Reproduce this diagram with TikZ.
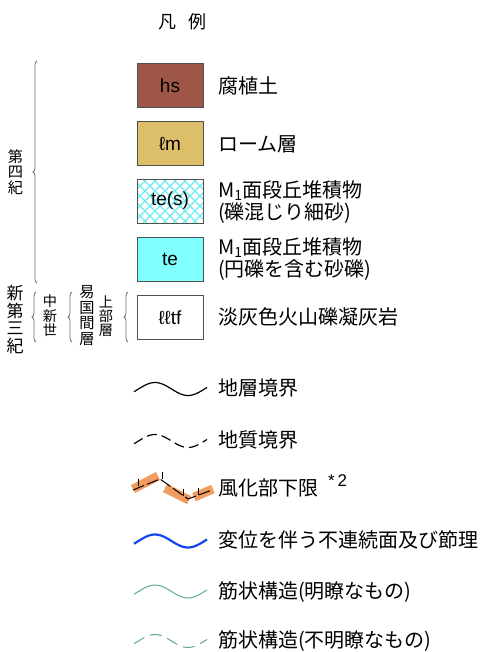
\documentclass[tikz,border=0pt]{standalone}
\usepackage{fontspec}
\setmainfont{Noto Sans CJK JP}
\newfontfamily\boxfont{Liberation Sans}
\usetikzlibrary{decorations.pathreplacing}

\tikzset{
    unitbox/.style={draw=myframe, line width=0.9pt, minimum width=66pt, minimum height=44pt,
        inner sep=0pt, font=\boxfont\fontsize{19}{20}\selectfont},
    legtext/.style={anchor=west, inner sep=0pt, align=left, font=\fontsize{20}{22}\selectfont},
    vchar/.style={inner sep=0pt, font=\fontsize{17}{17}\selectfont},
    vmid/.style={inner sep=0pt, font=\fontsize{15.2}{15.2}\selectfont},
    vsmall/.style={inner sep=0pt, font=\fontsize{14.2}{14.2}\selectfont},
    agebrace/.style={draw=mybrace, line width=0.8pt, decorate, decoration={brace, amplitude=4pt}},
}

% wave sample of a legend line
\newcommand{\legwave}[2][]{%
    \draw[#1] plot[domain=134:207, samples=40, smooth] (\x, {#2-6.5*cos(5.4545*(\x-155))});}

\begin{document}
\begin{tikzpicture}[x=1pt, y=-1pt]
    \definecolor{myhumus}{RGB}{158,86,71}
    \definecolor{myloam}{RGB}{221,191,106}
    \definecolor{mycyan}{RGB}{128,255,255}
    \definecolor{myhatch}{RGB}{110,235,240}
    \definecolor{myframe}{RGB}{80,80,80}
    \definecolor{mybrace}{RGB}{110,110,110}
    \definecolor{myorange}{RGB}{238,146,78}
    \definecolor{myblue}{RGB}{20,70,240}
    \definecolor{mystreak}{RGB}{100,170,130}

    \useasboundingbox (0,0) rectangle (484,652);

    \node[inner sep=0pt, font=\fontsize{18}{18}\selectfont] (title) at (182.5,22) {凡\hspace{13pt}例};

    % unit boxes
    \node[unitbox, fill=myhumus] (hs) at (170,85.5) {hs};
    \node[unitbox, fill=myloam] (lm) at (170,143.5) {ℓm};
    \begin{scope}
        \clip (137,179) rectangle (203,223);
        \foreach \k in {0,10,...,120} {
            \draw[myhatch, line width=1.3pt] (93+\k,179) -- ++(44,44);
            \draw[myhatch, line width=1.3pt] (93+\k,223) -- ++(44,-44);
        }
    \end{scope}
    \node[unitbox] (tes) at (170,201) {te(s)};
    \node[unitbox, fill=mycyan] (te) at (170,259.5) {te};
    \node[unitbox] (lltf) at (170,317.5) {ℓℓtf};

    \node[legtext] (hstext) at (218,86) {腐植土};
    \node[legtext] (lmtext) at (218,144) {ローム層};
    \node[legtext] (testext) at (218,202) {M\textsubscript{1}面段丘堆積物\\(礫混じり細砂)};
    \node[legtext] (tetext) at (218,259) {M\textsubscript{1}面段丘堆積物\\(円礫を含む砂礫)};
    \node[legtext] (lltftext) at (218,317) {淡灰色火山礫凝灰岩};

    % ages
    \foreach \kanji [count=\i] in {第,四,紀}
        \node[vmid] (quat\i) at (15.5,141.5+15.5*\i) {\kanji};
    \foreach \kanji [count=\i] in {新,第,三,紀}
        \node[vchar] (neo\i) at (15,275.5+17.7*\i) {\kanji};
    \foreach \kanji [count=\i] in {中,新,世}
        \node[vsmall] (mio\i) at (50,287+14.5*\i) {\kanji};
    \foreach \kanji [count=\i] in {易,国,間,層}
        \node[vmid] (ogm\i) at (87,277+15.5*\i) {\kanji};
    \foreach \kanji [count=\i] in {上,部,層}
        \node[vsmall] (upp\i) at (106,287+14.5*\i) {\kanji};

    \draw[agebrace] (37,283) -- (37,61);
    \draw[agebrace] (36,342) -- (36,292);
    \draw[agebrace] (72,342) -- (72,292);
    \draw[agebrace] (128,342) -- (128,292);

    % line symbols
    \legwave[line width=1.2pt]{389}
    \node[legtext] (bnd) at (218,388) {地層境界};
    \legwave[line width=1.2pt, dash pattern=on 10pt off 5pt]{441}
    \node[legtext] (gbnd) at (218,440) {地質境界};

    \draw[myorange, line width=9pt, opacity=0.9] (133,489) -- (158,476) (165,488) -- (189,500) (194,497) -- (213,489);
    \draw[line width=1pt, dash pattern=on 12pt off 3pt] (133,490) -- (160,479) -- (188,499) -- (212,490);
    \foreach \tx/\ty in {138/486, 162/479, 183/496, 198/495}
        \draw[line width=1pt] (\tx,\ty) -- ++(0,-7);
    \node[legtext] (weath) at (218,488) {風化部下限};
    \node[anchor=west, inner sep=0pt, font=\boxfont\fontsize{17}{17}\selectfont] (wnote) at (328,481) {*\,2};

    \legwave[myblue, line width=2.2pt]{541}
    \node[legtext] (disc) at (218,540) {変位を伴う不連続面及び節理};
    \legwave[mystreak, line width=1pt]{591.5}
    \node[legtext] (strk) at (218,592) {筋状構造(明瞭なもの)};
    \legwave[mystreak, line width=1pt, dash pattern=on 12pt off 6pt]{641}
    \node[legtext] (strku) at (218,641) {筋状構造(不明瞭なもの)};
\end{tikzpicture}
\end{document}
